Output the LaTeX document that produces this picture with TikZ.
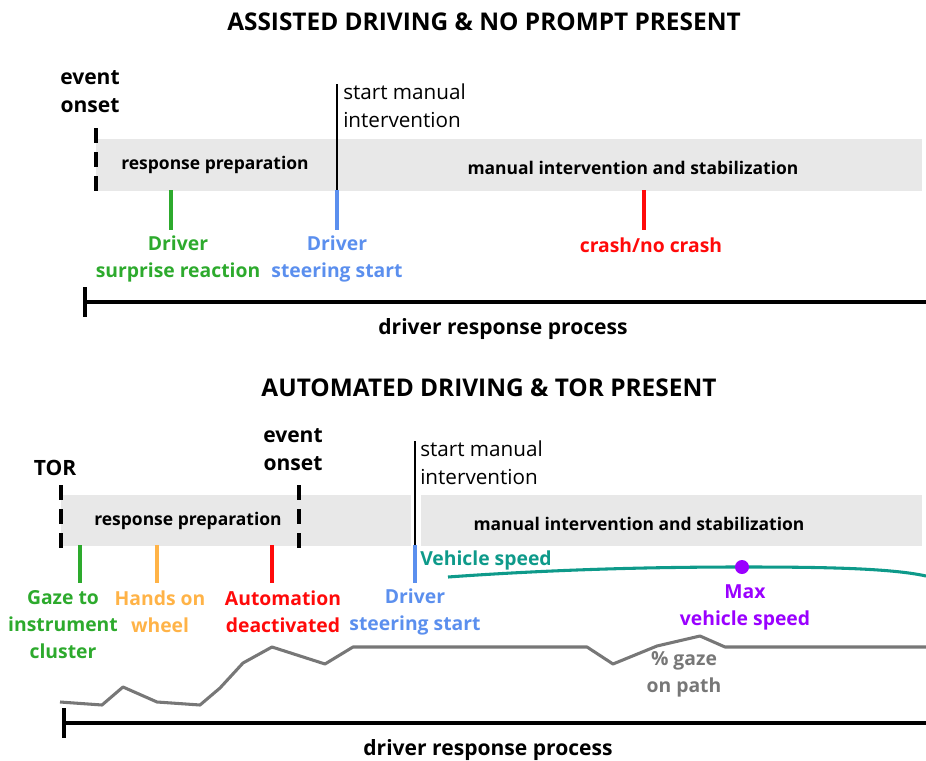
\documentclass[tikz,border=0pt]{standalone}
\usepackage{fontspec}
\setmainfont{Open Sans}
\definecolor{bandgray}{HTML}{E8E8E8}
\definecolor{cgreen}{HTML}{2DAA2D}
\definecolor{cblue}{HTML}{5B8FEE}
\definecolor{cred}{HTML}{FF0A0A}
\definecolor{corange}{HTML}{FFB347}
\definecolor{cteal}{HTML}{0E9A8A}
\definecolor{cpurple}{HTML}{9A00FF}
\definecolor{cgray}{HTML}{777777}
\begin{document}
\begin{tikzpicture}[x=0.75pt,y=-0.75pt,
  titletext/.style={font=\fontsize{18.3}{21}\selectfont\bfseries, inner sep=0pt},
  eventtext/.style={font=\fontsize{15.8}{21}\selectfont\bfseries, align=center, inner sep=0pt},
  bandtext/.style={font=\fontsize{13.1}{15}\selectfont\bfseries, inner sep=0pt},
  starttext/.style={font=\fontsize{15.5}{21}\selectfont, align=left, inner sep=0pt, anchor=west},
  labeltext/.style={font=\fontsize{14.5}{20.25}\selectfont\bfseries, align=center, inner sep=0pt},
  band/.style={fill=bandgray, draw=none},
  dashline/.style={line width=2.5pt, dash pattern=on 11pt off 7pt},
  markline/.style={line width=2.4pt},
  startline/.style={line width=2.1pt},
  timeline/.style={line width=3.6pt},
  curve/.style={line width=2.3pt, line join=round}
]
\useasboundingbox (0,0) rectangle (926,761);

% ================= TOP =================
\node[titletext] (t1) at (484,22) {ASSISTED DRIVING \& NO PROMPT PRESENT};

\fill[band] (96,139) rectangle (922,191);
\node[bandtext] (rp1) at (215,165) {response preparation};
\node[bandtext] (mi1) at (633,168) {manual intervention and stabilization};

\node[eventtext] (eo1) at (90,92) {event\\onset};
\coordinate (eo1top) at (96,128);
\coordinate (eo1bot) at (96,192);
\draw[dashline] (eo1top) -- (eo1bot);

\coordinate (sm1top) at (337,84);
\coordinate (sm1mid) at (337,190);
\coordinate (sm1bot) at (337,230);
\draw[startline] (sm1top) -- (sm1mid);
\draw[markline, cblue] (sm1mid) -- (sm1bot);
\node[starttext] (sm1) at (343,106) {start manual\\intervention};

\coordinate (g1top) at (171,190);
\coordinate (g1bot) at (171,230);
\draw[markline, cgreen] (g1top) -- (g1bot);
\node[labeltext, text=cgreen] (dsr) at (178,259) {Driver\\surprise reaction};
\node[labeltext, text=cblue] (dss1) at (337,259) {Driver\\steering start};

\coordinate (r1top) at (644,190);
\coordinate (r1bot) at (644,230);
\draw[markline, cred] (r1top) -- (r1bot);
\node[labeltext, text=cred] (crash) at (651,245) {crash/no crash};

\coordinate (tl1a) at (85,287);
\coordinate (tl1b) at (85,317);
\coordinate (tl1s) at (85,302);
\coordinate (tl1e) at (926,302);
\draw[timeline] (tl1a) -- (tl1b);
\draw[timeline] (tl1s) -- (tl1e);
\node[eventtext] (drp1) at (503,329) {driver response process};

% ================= BOTTOM =================
\node[titletext] (t2) at (489,388) {AUTOMATED DRIVING \& TOR PRESENT};

\fill[band] (61,495) rectangle (411,546);
\fill[band] (421,495) rectangle (922,546);
\node[bandtext] (rp2) at (188,521) {response preparation};
\node[bandtext] (mi2) at (639,524) {manual intervention and stabilization};

\node[eventtext] (tor) at (55,468) {TOR};
\coordinate (tortop) at (61,485);
\coordinate (torbot) at (61,548);
\draw[dashline] (tortop) -- (torbot);

\node[eventtext] (eo2) at (293,450) {event\\onset};
\coordinate (eo2top) at (299,485);
\coordinate (eo2bot) at (299,548);
\draw[dashline] (eo2top) -- (eo2bot);

\coordinate (sm2top) at (415,441);
\coordinate (sm2mid) at (415,545);
\coordinate (sm2bot) at (415,583);
\draw[startline] (sm2top) -- (sm2mid);
\draw[markline, cblue] (sm2mid) -- (sm2bot);
\node[starttext] (sm2) at (420,463) {start manual\\intervention};

\coordinate (g2top) at (80,545);
\coordinate (g2bot) at (80,583);
\draw[markline, cgreen] (g2top) -- (g2bot);
\node[labeltext, text=cgreen] (gaze) at (63,625) {Gaze to\\instrument\\cluster};

\coordinate (o2top) at (157,545);
\coordinate (o2bot) at (157,583);
\draw[markline, corange] (o2top) -- (o2bot);
\node[labeltext, text=corange] (hands) at (160,612) {Hands on\\wheel};

\coordinate (r2top) at (272,545);
\coordinate (r2bot) at (272,583);
\draw[markline, cred] (r2top) -- (r2bot);
\node[labeltext, text=cred] (auto) at (283,612) {Automation\\deactivated};

\node[labeltext, text=cblue] (dss2) at (415,612) {Driver\\steering start};

\node[labeltext, text=cteal, anchor=west] (vs) at (420,560) {Vehicle speed};
\coordinate (vs0) at (448,577);
\coordinate (vsmax) at (742,567);
\coordinate (vs1) at (926,576);
\draw[curve, cteal] (vs0) .. controls (560,569) and (660,567) .. (vsmax)
                    .. controls (820,567) and (890,568) .. (vs1);
\fill[cpurple] (vsmax) circle (7);
\node[labeltext, text=cpurple] (maxvs) at (745,607) {Max\\vehicle speed};

\draw[curve, cgray] (60,702) -- (102,705) -- (123,687) -- (157,702) -- (200,705)
  -- (220,688) -- (243,663) -- (272,647) -- (325,664) -- (353,647) -- (587,647)
  -- (613,664) -- (657,646) -- (700,636) -- (725,647) -- (926,647);
\node[labeltext, text=cgray] (gop) at (684,674) {\% gaze\\on path};

\coordinate (tl2a) at (64,708);
\coordinate (tl2b) at (64,738);
\coordinate (tl2s) at (64,723);
\coordinate (tl2e) at (926,723);
\draw[timeline] (tl2a) -- (tl2b);
\draw[timeline] (tl2s) -- (tl2e);
\node[eventtext] (drp2) at (488,750) {driver response process};
\end{tikzpicture}
\end{document}
